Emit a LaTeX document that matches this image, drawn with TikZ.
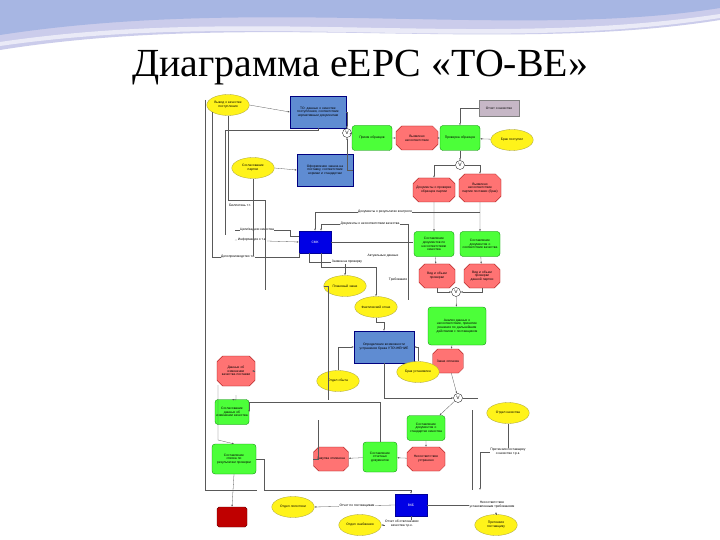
\documentclass[tikz,border=0pt]{standalone}
\usepackage{fontspec}
\setmainfont{Liberation Serif}
\newfontfamily\smallsans{Liberation Sans}
\usetikzlibrary{shapes.misc,shapes.geometric,arrows.meta}
\tikzset{
 every node/.style={font=\smallsans\fontsize{3.3}{3.8}\selectfont,align=center,inner sep=1pt},
 evt/.style={ellipse,draw=yellow!60!black,fill=yellow!90!white,line width=0.3pt,minimum width=38bp,minimum height=21bp,text width=30bp,inner sep=0pt},
 fun/.style={rounded corners=3bp,draw=green!50!black,fill=green!75!white!90!lime,line width=0.3pt,minimum width=40bp,minimum height=25bp,text width=36bp},
 rev/.style={chamfered rectangle,chamfered rectangle xsep=2.5bp,draw=red!60!black,fill=red!55!white,line width=0.3pt,minimum width=40bp,minimum height=24bp,text width=36bp,inner sep=0.5pt},
 doc/.style={rectangle,draw=blue!50!black,fill={rgb,255:red,95;green,140;blue,210},line width=0.3pt,minimum width=56bp,minimum height=32bp,text width=50bp},
 org/.style={rectangle,draw=blue!60!black,fill=blue!90!black,text=white,minimum width=32bp,minimum height=22bp},
 op/.style={circle,draw,fill=white,line width=0.3pt,minimum size=9bp,inner sep=0pt,font=\smallsans\fontsize{5}{5}\selectfont},
 ln/.style={draw=gray!70!black,line width=0.3pt},
 ar/.style={ln,-{Latex[length=2bp,width=1.6bp]}},
 lbl/.style={fill=white,inner sep=0.5pt}
}
\begin{document}
\begin{tikzpicture}[x=1bp,y=-1bp]
\useasboundingbox (0,0) rectangle (720,540);
\fill[white] (0,0) rectangle (720,540);
% background waves
\fill[cyan!25!blue!20] (0,0) -- (720,0) -- (720,20) .. controls (500,55) and (250,10) .. (0,50) -- cycle;
\fill[cyan!40!blue!35] (0,0) -- (720,0) -- (720,8) .. controls (520,40) and (260,-5) .. (0,35) -- cycle;
\fill[white,opacity=0.6] (0,42) .. controls (250,5) and (480,50) .. (720,14) -- (720,18) .. controls (480,55) and (250,10) .. (0,46) -- cycle;
\node[font=\fontsize{40}{44}\selectfont] (title) at (360,68) {Диаграмма еЕРС «ТО-ВЕ»};

% top row
\node[evt] (e1) at (228,105) {Вывод о качестве поступления};
\node[doc] (d1) at (318,112) {ТО: данные о качестве поступления, соответствие нормативным документам};
\node[evt] (e2) at (253,168) {Согласование партии};
\node[doc] (d2) at (325,170) {Оформление заказа на поставку, соответствие нормам и стандартам};
\node[op] (o1) at (347,133) {V};
\node[fun] (f1) at (372,138) {Прием образцов};
\node[rev] (r1) at (417,138) {Выявлено несоответствие};
\node[fun] (f2) at (460,138) {Проверка образцов};
\node[rectangle,draw=gray,fill=violet!25!gray!45,minimum width=40bp,minimum height=16bp] (g1) at (499,108) {Отчет о качестве};
\node[evt] (e3) at (512,140) {Брак поступил};
\node[op] (o2) at (460,165) {V};
\node[rev] (r2) at (434,190) {Документы о проверке образцов партии};
\node[rev,minimum height=28bp] (r3) at (480,188) {Выявлено несоответствие партии поставки (брак)};

% middle
\node[org] (smk) at (315,242) {СМК};
\node[fun] (f3) at (434,244) {Составление документов по несоответствию качества};
\node[fun] (f4) at (480,244) {Составление документов о соответствии качества};
\node[rev,minimum width=34bp,text width=30bp] (r4) at (437,276) {Вид и объем проверки};
\node[rev,minimum width=34bp,text width=30bp] (r5) at (482,276) {Вид и объем проверки данной партии};
\node[op] (o3) at (456,292) {V};
\node[evt] (e4) at (345,286) {Плановый заказ};
\node[evt,minimum width=36bp] (e5) at (376,307) {Фактический отказ};
\node[fun,minimum width=58bp,minimum height=38bp,text width=54bp] (f5) at (457,326) {Анализ данных о несоответствии, принятие решения по дальнейшим действиям с поставщиком};
\node[doc,minimum width=60bp] (d3) at (384,347) {Определение возможности устранения брака УТОЧНЕНИЕ};
\node[rev,minimum width=30bp,text width=26bp] (r6) at (448,361) {Заказ оплачен};
\node[evt] (e6) at (338,381) {Отдел сбыта};
\node[evt] (e7) at (418,372) {Брак установлен};
\node[rev,minimum width=36bp,minimum height=30bp,text width=32bp] (r7) at (236,371) {Данные об изменении качества поставки};
\node[op] (o4) at (458,398) {V};

% lower
\node[fun,minimum width=34bp,text width=32bp] (f6) at (232,412) {Согласование данных об изменении качества};
\node[fun,minimum width=34bp] (f7) at (426,428) {Составление документов о стандартах качества};
\node[evt] (e9) at (508,413) {Отдел качества};
\node[fun,minimum width=44bp,minimum height=30bp] (f8) at (234,459) {Составление списка по результатам проверки};
\node[rev,minimum width=34bp,text width=30bp] (r8) at (331,459) {Закупка отменена};
\node[fun,minimum width=34bp,minimum height=30bp,text width=32bp] (f9) at (380,457) {Составление отчетных документов};
\node[rev,minimum width=36bp,text width=32bp] (r9) at (426,459) {Несоответствие устранено};
\node[chamfered rectangle,chamfered rectangle xsep=2.5bp,draw=red!40!black,fill=red!75!black,minimum width=30bp,minimum height=20bp] (rx) at (232,517) {};
\node[org] (vkb) at (411,505) {ВКБ};
\node[evt] (e10) at (293,507) {Отдел логистики};
\node[evt] (e11) at (360,525) {Отдел снабжения};
\node[evt] (e12) at (496,525) {Претензия поставщику};

% connectors top
\draw[ar] (e1.east) -- (d1.west);
\draw[ar] (e2.east) -- (d2.west);
\draw[ar] (d1.east) -| (o1.north);
\draw[ar] (d2.east) -| (o1.south);
\draw[ar] (o1) -- (f1);
\draw[ar] (f1) -- (r1);
\draw[ar] (r1) -- (f2);
\draw[ar] (e3) -- (f2);
\draw[ar] (g1.west) -| (f2.north);
\draw[ar] (f2) -- (o2);
\draw[ar] (o2.west) -| (r2.north);
\draw[ar] (o2.east) -| (r3.north);
\draw[ar] (r2) -- (f3);
\draw[ar] (r3) -- (f4);
\draw[ar] (f3) -- (r4);
\draw[ar] (f4) -- (r5);
\draw[ar] (r4.south) |- (o3.west);
\draw[ar] (r5.south) |- (o3.east);
\draw[ar] (o3) -- (f5);
\draw[ar] (f5) -- (r6);
\draw[ar] (r6) -- (o4);

% SMK lines
\coordinate (c1) at (480,212);
\draw[ar] (c1) -| (smk.north);
\node[lbl] at (385,212) {Документы о результатах контроля};
\coordinate (c2) at (408,224);
\draw[ar] (c2) -| ([xshift=6bp]smk.north);
\node[lbl] at (370,224) {Документы о несоответствии качества};
\coordinate (c3) at (235,240);
\draw[ar] (c3) -- (smk.west);
\node[lbl] at (252,240) {Информация о т.к.};
\coordinate (c4) at (235,230);
\draw[ln] (c4) -- (290,230) -- (290,236) -- (smk.west |- 0,236);
\node[lbl] at (257,230) {Цели/задачи качества};
\coordinate (c5) at (212,257);
\draw[ln] (smk.south west) |- (c5);
\node[lbl] at (238,257) {Делопроизводство т.к.};
\draw[ln] (smk.east) -- (413,242);
\draw[ar] ([xshift=-6bp]smk.south) |- (e4.north |- 262,262) -- (e4.north);
\node[lbl] at (347,262) {Заявка на проверку};
\draw[ar] ([xshift=6bp]smk.south) ++(0,0) -- ++(0,14) -| (e5.north);
\node[lbl] at (383,256) {Актуальные данные};
\node[lbl] at (240,205) {Бюллетень т.т.};
\draw[ln] (e1.south) -- (e1.south |- 0,200) -- (265,200) -- (265,290);
\draw[ln] (e2.south) -- (253,256);
\draw[ln] (212,112) -- (212,257);
\draw[ln] (d1.south) -- (d1.south |- 0,130) -- (225,130) -- (225,235);
\draw[ln] (408,224) -- (408,300);
\node[lbl] at (398,280) {Требования};

% middle lower
\draw[ar] (e5.south) -- (e5.south |- 0,322) -| (d3.north);
\draw[ar] (e6.north) |- (d3.west);
\draw[ar] (e7.north) |- (d3.east);
\draw[ar] (d3.south) |- (o4.west);
\draw[ln] (e4.west) -- (328,286) -- (328,400);
\draw[ar] (o4) -- (f7);
\draw[ar] (f7) -- (r9);
\draw[ar] (r9) -- (f9);
\draw[ar] (f9) -- (r8);
\draw[ar] (f9.north) |- (380,402) -- (f6.east |- 0,402) -- (f6.east);
\draw[ln] (o4.east) -- (478,398);
\draw[ar] (r7.east) -- (252,371);
\draw[ar] (236,395) -- (236,400) -- (f6.north);
\draw[ar] (218,385) -- (218,440) -- (f8.north);
\draw[ar] (f8.south) -- (rx.north);
\draw[ar] (f8.east) -- ++(8,0) |- (vkb.north |- 0,490) -- (vkb.north);
\draw[ln] (r8.west) -- (318,459) -- (318,420);
\draw[ln] (472,410) -- (472,490);
\draw[ar] (e9.south) |- (480,452) -- (480,490);
\node[lbl] at (508,452) {Претензия поставщику\\ о качестве т.р.к.};
\draw[ar] (vkb.west) -- (e10.east);
\node[lbl] at (357,506) {Отчет по поставщикам};
\draw[ar] (vkb.south) |- (e11.east);
\node[lbl] at (402,524) {Отчет об отклонениях\\ качества т.р.к.};
\draw[ln] (vkb.east) -- (500,505);
\draw[ar] (e12.north) -- (496,512);
\node[lbl] at (492,505) {Несоответствие\\ установленным требованиям};
\draw[ln] (205,100) -- (205,490) -- (257,490);
\end{tikzpicture}
\end{document}
